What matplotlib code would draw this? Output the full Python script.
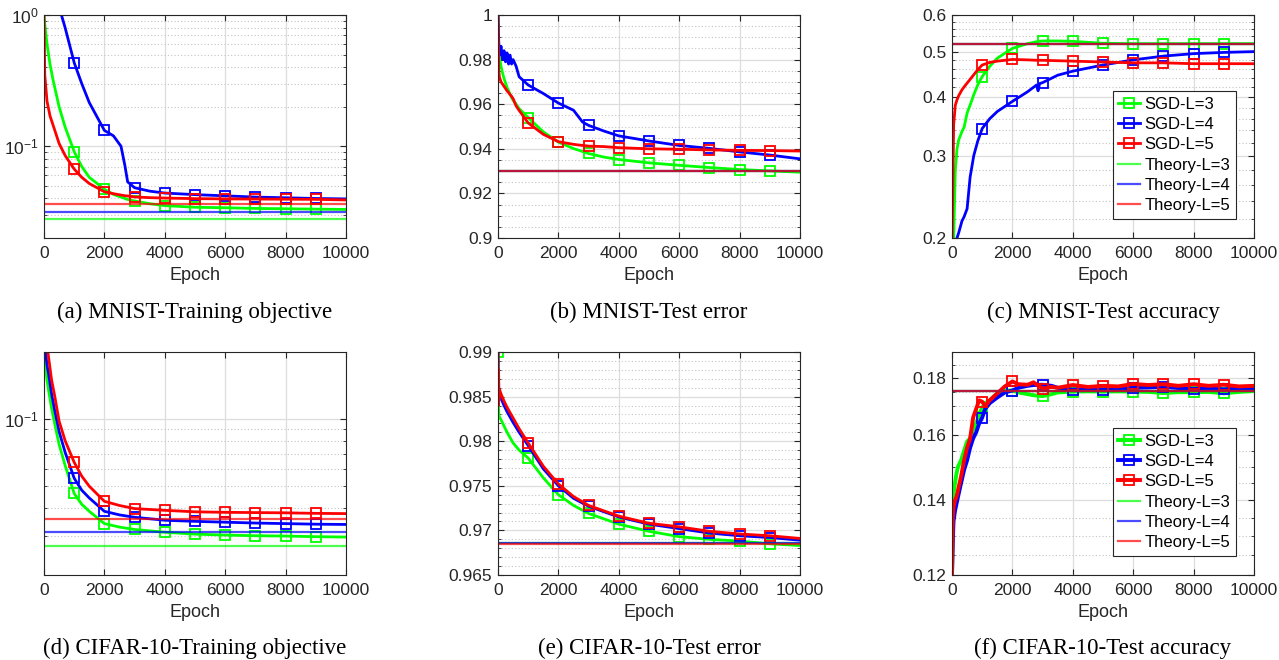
import matplotlib
matplotlib.use("Agg")
import matplotlib.pyplot as plt
from matplotlib.ticker import FixedLocator, FixedFormatter, NullFormatter

plt.rcParams['font.family'] = ['Liberation Sans', 'DejaVu Sans']
plt.rcParams['mathtext.fontset'] = 'custom'
plt.rcParams['mathtext.rm'] = 'Liberation Sans'
plt.rcParams['mathtext.it'] = 'Liberation Sans:italic'

#------------------------------------
# data
#------------------------------------
LABELS_SGD = ["SGD-L=3", "SGD-L=4", "SGD-L=5"]
LABELS_THEORY = ["Theory-L=3", "Theory-L=4", "Theory-L=5"]

# (a) MNIST training objective
A_EPOCH = [0, 25, 100, 200, 300, 500, 700, 1000, 1250, 1500, 2000, 2300, 2550, 2680,
           2770, 3000, 3500, 4000, 5000, 6000, 7000, 8000, 9000, 10000]
A_SGD3 = [1.0, 0.85, 0.6, 0.42, 0.32, 0.2, 0.14, 0.091, 0.07, 0.058, 0.047, 0.043,
          0.041, 0.040, 0.0393, 0.0383, 0.0365, 0.0353, 0.0343, 0.034, 0.0336, 0.0334,
          0.0332, 0.033]
A_SGD4 = [3.0, 2.9, 2.5, 2.0, 1.6, 1.15, 0.8, 0.433, 0.3, 0.215, 0.132, 0.12, 0.10,
          0.071, 0.0535, 0.0483, 0.0455, 0.044, 0.0428, 0.0419, 0.041, 0.0405, 0.040,
          0.0397]
A_SGD5 = [1.0, 0.35, 0.22, 0.17, 0.145, 0.105, 0.085, 0.067, 0.058, 0.052, 0.045,
          0.0435, 0.0425, 0.042, 0.0418, 0.0411, 0.0406, 0.0403, 0.0399, 0.0397, 0.0396,
          0.0395, 0.0394, 0.039]
A_THEORY = [0.0277, 0.0318, 0.0364]

# (b) MNIST test error
B_EPOCH = [0, 25, 50, 100, 150, 200, 250, 300, 350, 400, 450, 500, 600, 700, 1000,
           1500, 2000, 2500, 2800, 3000, 3500, 4000, 5000, 6000, 7000, 8000, 9000, 10000]
B_SGD3 = [1.0, 0.985, 0.981, 0.977, 0.974, 0.9715, 0.9695, 0.9675, 0.966, 0.9645,
          0.963, 0.9618, 0.960, 0.958, 0.954, 0.9476, 0.943, 0.9401, 0.9388, 0.9379,
          0.9363, 0.9352, 0.9337, 0.9326, 0.9316, 0.9307, 0.9301, 0.9295]
B_SGD4 = [1.0, 0.988, 0.982, 0.986, 0.980, 0.984, 0.979, 0.983, 0.978, 0.982, 0.978,
          0.980, 0.977, 0.9723, 0.9686, 0.9648, 0.9605, 0.9573, 0.952, 0.9505, 0.948,
          0.9458, 0.9435, 0.9415, 0.9402, 0.9386, 0.9372, 0.9355]
B_SGD5 = [1.0, 0.975, 0.972, 0.970, 0.969, 0.968, 0.967, 0.966, 0.9652, 0.9643,
          0.9635, 0.9625, 0.9592, 0.9572, 0.9516, 0.9465, 0.9432, 0.942, 0.9415, 0.9412,
          0.941, 0.9405, 0.940, 0.9398, 0.9395, 0.9393, 0.9392, 0.939]
B_THEORY = [0.9302, 0.9302, 0.9302]

# (c) MNIST test accuracy
C_EPOCH = [0, 55, 110, 165, 220, 330, 400, 500, 600, 720, 850, 1000, 1250, 1500, 2000,
           2500, 2800, 2850, 2900, 3000, 3500, 4000, 5000, 6000, 7000, 8000, 9000, 10000]
C_SGD3 = [0.15, 0.2, 0.28, 0.31, 0.324, 0.338, 0.345, 0.37, 0.385, 0.405, 0.425, 0.443,
          0.466, 0.485, 0.509, 0.521, 0.526, 0.527, 0.527, 0.528, 0.528, 0.527, 0.522,
          0.521, 0.521, 0.521, 0.521, 0.521]
C_SGD4 = [0.15, 0.17, 0.19, 0.2, 0.205, 0.2175, 0.222, 0.231, 0.27, 0.3, 0.322, 0.343,
          0.36, 0.373, 0.392, 0.411, 0.425, 0.413, 0.428, 0.430, 0.446, 0.455, 0.469,
          0.481, 0.49, 0.496, 0.499, 0.501]
C_SGD5 = [0.19, 0.35, 0.385, 0.395, 0.403, 0.415, 0.421, 0.429, 0.437, 0.447, 0.458,
          0.469, 0.475, 0.478, 0.482, 0.481, 0.480, 0.480, 0.480, 0.480, 0.479, 0.478,
          0.476, 0.474, 0.474, 0.472, 0.472, 0.472]
C_THEORY = [0.519, 0.519, 0.519]

# (d) CIFAR-10 training objective
D_EPOCH = [0, 50, 100, 150, 250, 350, 500, 700, 1000, 1250, 1500, 2000, 2500, 3000,
           4000, 5000, 6000, 7000, 8000, 9000, 10000]
D_SGD3 = [0.2, 0.17, 0.15, 0.135, 0.112, 0.096, 0.077, 0.062, 0.0464, 0.0415, 0.0386,
          0.034, 0.0328, 0.032, 0.0311, 0.0305, 0.0302, 0.03, 0.0299, 0.0297, 0.0296]
D_SGD4 = [0.25, 0.2, 0.175, 0.16, 0.13, 0.11, 0.088, 0.071, 0.0543, 0.048, 0.0443,
          0.0386, 0.0372, 0.0363, 0.0352, 0.0348, 0.0345, 0.0342, 0.034, 0.0338, 0.0337]
D_SGD5 = [0.35, 0.25, 0.215, 0.19, 0.15, 0.128, 0.098, 0.08, 0.064, 0.0555, 0.05,
          0.0428, 0.041, 0.0397, 0.039, 0.0384, 0.0382, 0.0381, 0.038, 0.0378, 0.0377]
D_THEORY = [0.0269, 0.0311, 0.0356]

# (e) CIFAR-10 test error
E_EPOCH = [0, 10, 20, 30, 50, 100, 200, 300, 500, 700, 1000, 1500, 2000, 2500, 3000,
           4000, 5000, 6000, 7000, 8000, 9000, 10000]
E_SGD3 = [0.99, 0.984, 0.9835, 0.983, 0.9827, 0.9824, 0.9817, 0.981, 0.9798, 0.979,
          0.9781, 0.9759, 0.974, 0.9728, 0.9719, 0.9707, 0.9699, 0.9693, 0.969, 0.9688,
          0.9685, 0.9683]
E_SGD4 = [0.99, 0.985, 0.987, 0.9848, 0.9852, 0.9848, 0.984, 0.9833, 0.9821, 0.981,
          0.9795, 0.9769, 0.975, 0.9736, 0.9727, 0.9715, 0.9707, 0.9702, 0.9697, 0.9694,
          0.9692, 0.9689]
E_SGD5 = [0.99, 0.984, 0.988, 0.9845, 0.9858, 0.9853, 0.9845, 0.9838, 0.9826, 0.9814,
          0.9798, 0.9772, 0.9752, 0.9738, 0.9728, 0.9716, 0.9708, 0.9704, 0.9699, 0.9696,
          0.9694, 0.9691]
E_THEORY = [0.96855, 0.96855, 0.9685]

# (f) CIFAR-10 test accuracy
F_EPOCH = [0, 25, 50, 100, 150, 200, 300, 400, 500, 600, 700, 800, 900, 1000, 1100,
           1250, 1500, 1750, 2000, 2200, 2500, 2700, 3000, 3300, 3500, 4000, 4500, 5000,
           5500, 6000, 6500, 7000, 7500, 8000, 8500, 9000, 9500, 10000]
F_SGD3 = [0.12, 0.138, 0.142, 0.145, 0.148, 0.150, 0.152, 0.155, 0.158, 0.159, 0.162,
          0.164, 0.167, 0.1695, 0.171, 0.172, 0.1745, 0.1755, 0.1755, 0.1748, 0.1742,
          0.1738, 0.1735, 0.1742, 0.1748, 0.1751, 0.1752, 0.1751, 0.1752, 0.1751, 0.175,
          0.1746, 0.1749, 0.1749, 0.175, 0.1745, 0.175, 0.1753]
F_SGD4 = [0.12, 0.128, 0.134, 0.137, 0.139, 0.141, 0.145, 0.149, 0.152, 0.156, 0.159,
          0.161, 0.164, 0.166, 0.169, 0.171, 0.173, 0.1748, 0.1755, 0.1765, 0.1772,
          0.1775, 0.1776, 0.1772, 0.1765, 0.1758, 0.1762, 0.1758, 0.1762, 0.1765, 0.1766,
          0.1768, 0.1764, 0.1761, 0.1762, 0.1759, 0.1762, 0.1762]
F_SGD5 = [0.12, 0.135, 0.138, 0.14, 0.141, 0.143, 0.147, 0.152, 0.156, 0.159, 0.166,
          0.169, 0.172, 0.1715, 0.170, 0.172, 0.1745, 0.177, 0.1788, 0.1778, 0.1776,
          0.1785, 0.1762, 0.1768, 0.1765, 0.1775, 0.1768, 0.1772, 0.177, 0.1779, 0.1775,
          0.1778, 0.1772, 0.1778, 0.1772, 0.1776, 0.177, 0.1772]
F_THEORY = [0.1755, 0.1755, 0.1755]

CAPTIONS = ["(a) MNIST-Training objective", "(b) MNIST-Test error",
            "(c) MNIST-Test accuracy", "(d) CIFAR-10-Training objective",
            "(e) CIFAR-10-Test error", "(f) CIFAR-10-Test accuracy"]

COLORS = ['#00ff00', '#0000ff', '#ff0000']
INK = '#262626'


def frange(start, stop, step):
    n = int(round((stop - start) / step))
    return [round(start + i * step, 6) for i in range(n + 1)]


def draw_panel(ax, epochs, sgd, theory, yscale, ylim, majors, major_labels, minors,
               lw=2.0, start_marker=()):
    for k, (vals, col) in enumerate(zip(sgd, COLORS)):
        idx = [i for i, e in enumerate(epochs) if e % 1000 == 0 and 0 < e < 10000]
        if k in start_marker:
            idx = [0] + idx
        ax.plot(epochs, vals, color=col, lw=lw, marker='s', markevery=idx,
                markersize=6.5, markerfacecolor='none', markeredgewidth=1.3,
                label=LABELS_SGD[k])
    for k, (val, col) in enumerate(zip(theory, COLORS)):
        ax.axhline(val, color=col, lw=1.6, alpha=0.7, label=LABELS_THEORY[k])

    ax.set_yscale(yscale)
    ax.set_xlim(0, 10000)
    ax.set_ylim(*ylim)
    ax.set_xticks(frange(0, 10000, 2000))
    ax.set_xticklabels(["0", "2000", "4000", "6000", "8000", "10000"])
    ax.yaxis.set_major_locator(FixedLocator(majors))
    ax.yaxis.set_major_formatter(FixedFormatter(major_labels))
    ax.yaxis.set_minor_locator(FixedLocator(minors))
    ax.yaxis.set_minor_formatter(NullFormatter())
    ax.xaxis.set_minor_locator(FixedLocator([]))

    ax.grid(True, which='major', color='#dddddd', lw=0.9)
    ax.yaxis.grid(True, which='minor', color='#c4c4c4', lw=0.8, ls=(0, (1, 2)))
    ax.set_axisbelow(True)
    ax.tick_params(which='both', direction='in', top=True, right=True,
                   colors=INK, labelsize=12.5)
    ax.tick_params(axis='x', pad=6)
    ax.tick_params(axis='y', pad=4)
    ax.tick_params(which='major', length=4)
    ax.tick_params(which='minor', length=2)
    for s in ax.spines.values():
        s.set_color(INK)
        s.set_linewidth(0.8)
    ax.set_xlabel("Epoch", fontsize=13, color=INK, labelpad=4)


fig = plt.figure(figsize=(12.79, 6.6), dpi=100)

lefts = [44 / 1279, 498 / 1279, 952 / 1279]
width = 302 / 1279
bottoms = [(660 - 238) / 660, (660 - 575) / 660]
height = 223 / 660
axes = [fig.add_axes([lefts[c], bottoms[r], width, height])
        for r in range(2) for c in range(3)]

log_minor = [0.02, 0.03, 0.04, 0.05, 0.06, 0.07, 0.08, 0.09,
             0.2, 0.3, 0.4, 0.5, 0.6, 0.7, 0.8, 0.9]

draw_panel(axes[0], A_EPOCH, [A_SGD3, A_SGD4, A_SGD5], A_THEORY, 'log', (0.02, 1),
           [0.1, 1], ["$10^{-1}$", "$10^{0}$"], log_minor)
draw_panel(axes[1], B_EPOCH, [B_SGD3, B_SGD4, B_SGD5], B_THEORY, 'linear', (0.9, 1),
           frange(0.9, 1, 0.02), ["0.9", "0.92", "0.94", "0.96", "0.98", "1"],
           frange(0.9, 1, 0.005))
draw_panel(axes[2], C_EPOCH, [C_SGD3, C_SGD4, C_SGD5], C_THEORY, 'log', (0.2, 0.6),
           [0.2, 0.3, 0.4, 0.5, 0.6], ["0.2", "0.3", "0.4", "0.5", "0.6"],
           frange(0.2, 0.6, 0.02))
draw_panel(axes[3], D_EPOCH, [D_SGD3, D_SGD4, D_SGD5], D_THEORY, 'log', (0.02, 0.2),
           [0.1], ["$10^{-1}$"], log_minor)
draw_panel(axes[4], E_EPOCH, [E_SGD3, E_SGD4, E_SGD5], E_THEORY, 'linear',
           (0.965, 0.99), frange(0.965, 0.99, 0.005),
           ["0.965", "0.97", "0.975", "0.98", "0.985", "0.99"],
           frange(0.965, 0.99, 0.001), start_marker=(0,))
draw_panel(axes[5], F_EPOCH, [F_SGD3, F_SGD4, F_SGD5], F_THEORY, 'log', (0.12, 0.19),
           [0.12, 0.14, 0.16, 0.18], ["0.12", "0.14", "0.16", "0.18"],
           frange(0.12, 0.19, 0.005), lw=2.8)

for ax in (axes[2], axes[5]):
    leg = ax.legend(loc='lower right', bbox_to_anchor=(0.94, 0.085), fontsize=12,
                    handlelength=1.3, handletextpad=0.25, labelspacing=0.32,
                    borderpad=0.35, borderaxespad=0, fancybox=False, framealpha=1,
                    edgecolor=INK)
    leg.get_frame().set_linewidth(0.8)

cap_y = [1 - 312 / 660, 1 - 648 / 660]
for i, ax in enumerate(axes):
    x0 = lefts[i % 3] + width / 2
    fig.text(x0, cap_y[i // 3], CAPTIONS[i], ha='center', va='center',
             fontsize=16.5, family=['Liberation Serif', 'DejaVu Serif'])

fig.savefig("out.png", dpi=100)
